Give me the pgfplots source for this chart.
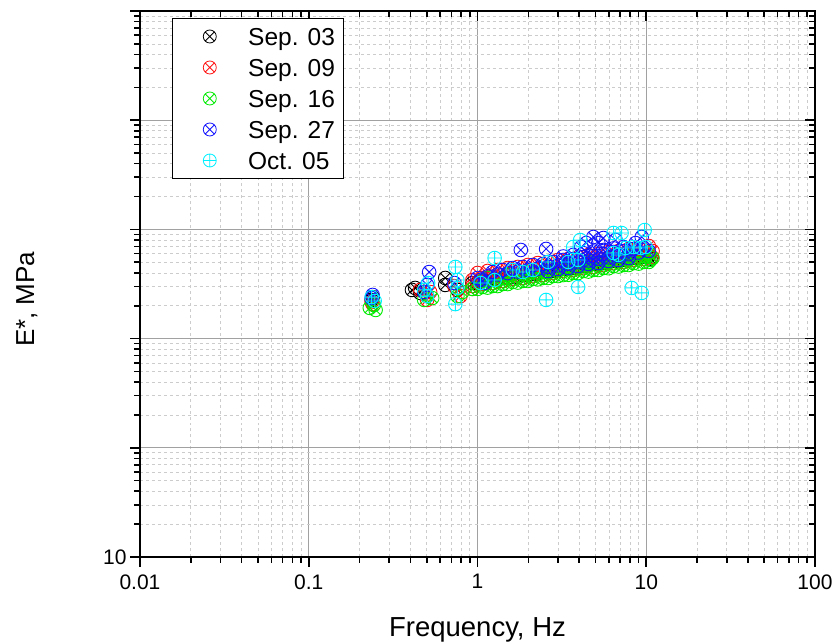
\documentclass[border=0pt]{standalone}
\usepackage{pgfplots}
\pgfplotsset{compat=1.18}
\usetikzlibrary{plotmarks}
\usepackage{fontspec}
\setmainfont{Liberation Sans}
\definecolor{cgreen}{RGB}{0,235,0}
\definecolor{ccyan}{RGB}{0,240,255}
\definecolor{cblue}{RGB}{20,20,255}
\definecolor{cred}{RGB}{255,20,20}

\begin{document}
\begin{tikzpicture}
\useasboundingbox (-140bp,-86bp) rectangle (697bp,557bp);

\begin{axis}[
  width=675bp, height=546bp, scale only axis,
  xmode=log, ymode=log,
  xmin=0.01, xmax=100, ymin=10, ymax=1000000,
  xtick={0.01,0.1,1,10,100},
  ytick={10,100,1000,10000,100000,1000000},
  axis line style={line width=1.6bp, black},
  every tick/.style={line width=1.6bp, black},
  major tick length=10bp, minor tick length=6bp,
  xticklabels={0.01,0.1,1,10,100},
  yticklabels={10,{},{},{},{},{}},
  xtick pos=left, ytick pos=left, tick align=outside,
  tick label style={font=\fontsize{21bp}{25bp}\selectfont},
  xticklabel style={yshift=-4bp},
  grid=both,
  major grid style={solid, line width=0.8bp, black!37},
  minor grid style={dashed, line width=0.6bp, black!20},
  xlabel={Frequency, Hz},
  ylabel={E*, MPa},
  every axis x label/.style={at={(axis description cs:0.5,-0.1099)}, anchor=north, inner sep=0pt,
     font=\fontsize{27.5bp}{31bp}\selectfont},
  every axis y label/.style={at={(axis description cs:-0.157,0.472)}, rotate=90, anchor=base, inner sep=0pt,
     font=\fontsize{26bp}{30bp}\selectfont},
  every axis plot/.append style={only marks, mark size=6.8bp, line width=0.9bp},
]
% Sep. 03
\addplot[black, mark=otimes] table {
x y
0.236 2260
0.239 2400
0.409 2790
0.427 2910
0.457 2620
0.503 2450
0.644 3590
0.644 3100
0.760 2790
0.933 3230
1.071 3370
1.229 3440
1.410 3590
1.618 3660
1.856 3820
2.13 3900
2.44 4070
2.80 4160
3.22 4340
3.69 4430
4.24 4620
4.86 4820
5.57 4920
6.40 5140
7.34 5250
8.42 5470
9.66 5590
10.6 5400
1.0 3230
1.147 3370
1.316 3440
1.510 3590
1.733 3660
1.988 3820
2.28 3950
2.62 4070
3.00 4250
3.45 4340
3.95 4530
4.54 4670
5.20 4820
5.97 5030
6.85 5140
7.86 5360
9.02 5540
10.35 5710
};
% Sep. 09
\addplot[cred, mark=otimes] table {
x y
0.236 2160
0.239 2070
0.457 2790
0.503 2260
0.524 2670
0.729 3030
0.792 2450
0.933 2850
0.933 3030
1.071 3170
1.229 3230
1.410 3370
1.618 3520
1.856 3590
2.13 3740
2.44 3820
2.80 3990
3.22 4160
3.69 4250
4.24 4430
4.86 4530
5.57 4720
6.40 4920
7.34 5030
8.42 5250
9.66 5360
10.8 5590
1.0 3990
1.147 4160
1.316 4250
1.510 4430
1.733 4530
1.988 4720
2.28 4920
2.62 5030
3.00 5250
3.45 5360
3.95 5590
4.54 5830
5.20 5960
5.97 6210
6.85 6340
7.86 6620
9.02 6760
10.35 7050
0.933 3440
1.071 3590
1.229 3700
1.410 3820
1.618 3960
1.856 4070
2.13 4250
2.44 4350
2.80 4530
3.22 4670
3.69 4820
4.24 5030
4.86 5150
5.57 5360
6.40 5520
7.34 5710
8.42 5920
9.66 6110
10.9 6340
};
% Sep. 16
\addplot[cgreen, mark=otimes] table {
x y
0.230 1910
0.243 2030
0.249 1830
0.483 2260
0.539 2350
0.760 2450
0.814 2670
0.933 2850
1.071 2970
1.229 3030
1.410 3160
1.618 3300
1.856 3370
2.13 3520
2.44 3590
2.80 3740
3.22 3820
3.69 3990
4.24 4160
4.86 4250
5.57 4430
6.40 4620
7.34 4720
8.42 4920
9.66 5030
10.6 5250
10.9 5470
1.147 3590
1.510 3820
1.988 4070
2.62 4340
3.45 4620
4.54 5030
5.97 5360
7.86 5710
10.35 6080
1.0 2850
1.147 2930
1.316 3030
1.510 3160
1.733 3260
1.988 3370
2.28 3490
2.62 3590
3.00 3740
3.45 3840
3.95 3990
4.54 4110
5.20 4250
5.97 4410
6.85 4570
7.86 4720
9.02 4860
10.35 5030
1.071 3370
1.410 3590
1.856 3870
2.44 4090
3.22 4400
4.24 4700
5.57 5030
7.34 5360
9.66 5710
};
% Sep. 27
\addplot[cblue, mark=otimes] table {
x y
0.236 2350
0.239 2510
0.517 4070
0.503 3100
0.483 2670
0.729 3230
1.042 3440
1.10 3230
1.229 4070
1.410 4250
1.618 4430
1.856 4530
2.13 4720
2.44 4820
2.80 5030
3.22 5250
3.69 5360
4.24 5590
4.86 5710
5.57 5960
6.40 6210
7.34 6340
8.42 6620
9.66 6760
2.62 4160
3.00 4340
3.45 4430
3.95 4620
4.54 4820
5.20 4920
5.97 5140
6.85 5250
7.86 5470
1.0 3590
1.147 3710
1.316 3870
1.510 3980
1.733 4110
1.988 4250
2.28 4370
2.62 4530
3.00 4690
3.45 4850
3.95 5010
4.54 5190
5.20 5360
5.97 5550
6.85 5750
7.86 5930
9.02 6140
10.35 6340
3.22 5650
3.69 5830
4.24 6050
4.86 6270
5.57 6480
6.40 6700
7.34 6900
1.806 6480
2.55 6620
4.41 7500
4.86 8520
5.57 8340
6.58 8000
4.12 6900
5.20 7500
9.40 8520
8.65 7500
};
% Oct. 05
\addplot[ccyan, mark=oplus] table {
x y
0.236 2400
0.246 2210
0.483 2790
0.503 2450
0.510 3230
0.739 4530
0.760 3440
0.760 2910
0.739 2070
1.042 3230
1.263 5470
1.263 3440
1.618 4250
1.856 4070
2.13 4250
2.62 5030
2.55 2260
3.45 5030
3.69 6900
4.06 8000
3.95 2970
3.95 5250
6.40 9270
7.14 9270
6.40 6080
6.85 5830
7.55 6760
8.42 6900
9.27 6760
9.93 6900
9.79 9870
8.19 2910
9.40 2620
};
\end{axis}

\begin{axis}[
  width=675bp, height=546bp, scale only axis,
  xmode=log, ymode=log,
  xmin=0.01, xmax=100, ymin=10, ymax=1000000,
  xtick={0.01,0.1,1,10,100},
  ytick={10,100,1000,10000,100000,1000000},
  axis line style={line width=1.6bp, black},
  every tick/.style={line width=1.6bp, black},
  major tick length=10bp, minor tick length=6bp,
  xticklabels={}, yticklabels={},
  xtick pos=right, ytick pos=right, tick align=inside,
  legend image code/.code={\path (0bp,0bp) (52bp,0bp); \draw[#1] plot coordinates {(29bp,0bp)};},
  legend cell align=left,
  legend style={at={(axis description cs:0.0474,0.987)}, anchor=north west,
    draw=black, line width=0.8bp, fill=white,
    inner xsep=8bp, inner ysep=6.5bp, row sep=8bp, column sep=15bp,
    font=\fontsize{24.5bp}{29bp}\selectfont,
    nodes={inner sep=0pt, text height=21bp, text depth=2bp}},
]
\addlegendimage{only marks, black, mark=otimes, mark size=6.5bp, line width=0.8bp}
\addlegendentry{Sep. 03}
\addlegendimage{only marks, cred, mark=otimes, mark size=6.5bp, line width=0.8bp}
\addlegendentry{Sep. 09}
\addlegendimage{only marks, cgreen, mark=otimes, mark size=6.5bp, line width=0.8bp}
\addlegendentry{Sep. 16}
\addlegendimage{only marks, cblue, mark=otimes, mark size=6.5bp, line width=0.8bp}
\addlegendentry{Sep. 27}
\addlegendimage{only marks, ccyan, mark=oplus, mark size=6.5bp, line width=0.8bp}
\addlegendentry{Oct. 05}
\end{axis}
\end{tikzpicture}
\end{document}
